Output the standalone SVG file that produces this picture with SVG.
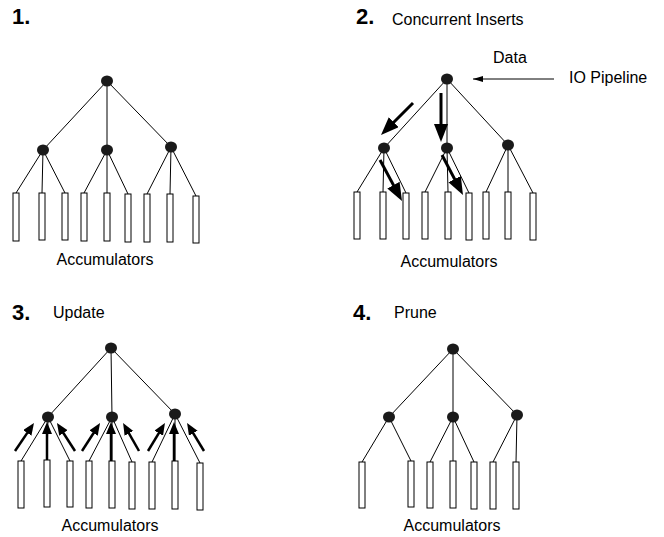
<svg xmlns="http://www.w3.org/2000/svg" width="664" height="537" viewBox="0 0 664 537">
<style>
.bg{fill:#fff}
.n{fill:#1a1a1a}
.acc{fill:#fff;stroke:#000;stroke-width:1}
.e{stroke:#000;stroke-width:1;fill:none}
.big{stroke:#000;stroke-width:3;fill:none;marker-end:url(#hb)}
.up{stroke:#000;stroke-width:2.5;fill:none;marker-end:url(#hs)}
.io{stroke:#000;stroke-width:1;fill:none;marker-end:url(#ht)}
.t{font-family:"Liberation Sans",Arial,sans-serif;font-size:16px;fill:#000}
.num{font-family:"Liberation Sans",Arial,sans-serif;font-size:22px;font-weight:bold;fill:#000}
</style>
<defs>
<marker id="hb" markerUnits="userSpaceOnUse" markerWidth="19" markerHeight="15" refX="6" refY="7" orient="auto"><path d="M0,0 L18,7 L0,14 z" fill="#000"/></marker>
<marker id="hs" markerUnits="userSpaceOnUse" markerWidth="13" markerHeight="11" refX="4" refY="5" orient="auto"><path d="M0,0 L12,5 L0,10 z" fill="#000"/></marker>
<marker id="ht" markerUnits="userSpaceOnUse" markerWidth="11" markerHeight="7" refX="10" refY="3" orient="auto"><path d="M0,0 L10,3 L0,6 z" fill="#000"/></marker>
</defs>
<rect class="bg" x="0" y="0" width="664" height="537"/>

<g id="connectors">
<!-- panel 1 -->
<path class="e" d="M107,81 L43,150 M107,81 L107,150 M107,81 L171,147"/>
<path class="e" d="M43,150 L16,193 M43,150 L42,193 M43,150 L65,193 M107,150 L84,193 M107,150 L107,193 M107,150 L128,194 M171,147 L147,194 M171,147 L170,194 M171,147 L196,196"/>
<!-- panel 2 -->
<path class="e" d="M447,79 L384,148 M447,79 L447,148 M447,79 L508,145"/>
<path class="e" d="M384,148 L357,192 M384,148 L383,192 M384,148 L406,193 M447,148 L425,192 M447,148 L448,192 M447,148 L469,193 M508,145 L486,192 M508,145 L508,192 M508,145 L533,193"/>
<line class="io" x1="554" y1="79" x2="473" y2="79"/>
<line class="big" x1="413" y1="103" x2="389.5" y2="126.5"/>
<line class="big" x1="441" y1="93" x2="441" y2="130"/>
<line class="big" x1="380" y1="160" x2="396.3" y2="190.4"/>
<line class="big" x1="442" y1="155" x2="457.4" y2="184.4"/>
<!-- panel 3 -->
<path class="e" d="M111,348 L48,417 M111,348 L112,417 M111,348 L175,414"/>
<path class="e" d="M48,417 L21,461 M48,417 L47,460 M48,417 L70,461 M112,417 L89,461 M112,417 L112,461 M112,417 L132,462 M175,414 L152,462 M175,414 L175,461 M175,414 L200,463"/>
<line class="up" x1="15" y1="451" x2="29.5" y2="429.6"/>
<line class="up" x1="47" y1="462" x2="47" y2="430"/>
<line class="up" x1="75" y1="451" x2="61.3" y2="429.7"/>
<line class="up" x1="82" y1="451" x2="95.7" y2="429.7"/>
<line class="up" x1="111" y1="462" x2="111" y2="430"/>
<line class="up" x1="139" y1="451" x2="127" y2="429.9"/>
<line class="up" x1="148" y1="451" x2="160.8" y2="429.8"/>
<line class="up" x1="174" y1="462" x2="174" y2="430"/>
<line class="up" x1="204" y1="451" x2="191.2" y2="429.8"/>
<!-- panel 4 -->
<path class="e" d="M453,349 L389,417 M453,349 L453,417 M453,349 L517,415"/>
<path class="e" d="M389,417 L362,462 M389,417 L411,461 M453,417 L430,462 M453,417 L453,461 M453,417 L474,462 M517,415 L493,462 M517,415 L516,462"/>
</g>

<g id="labels">
<text class="num" x="12" y="24">1.</text>
<text class="num" x="356" y="24">2.</text>
<text class="t" x="392" y="25">Concurrent Inserts</text>
<text class="t" x="493" y="63">Data</text>
<text class="t" x="569" y="83">IO Pipeline</text>
<text class="num" x="12" y="320">3.</text>
<text class="t" x="53" y="318">Update</text>
<text class="num" x="353" y="320">4.</text>
<text class="t" x="394" y="318">Prune</text>
<text class="t" x="105" y="265" text-anchor="middle">Accumulators</text>
<text class="t" x="449" y="267" text-anchor="middle">Accumulators</text>
<text class="t" x="110" y="531" text-anchor="middle">Accumulators</text>
<text class="t" x="452" y="531" text-anchor="middle">Accumulators</text>
</g>

<g id="p1-root"><ellipse class="n" cx="107" cy="81" rx="6" ry="5.5"/></g>
<g id="p1-mid1"><ellipse class="n" cx="43" cy="150" rx="6" ry="5.5"/></g>
<g id="p1-mid2"><ellipse class="n" cx="107" cy="150" rx="6" ry="5.5"/></g>
<g id="p1-mid3"><ellipse class="n" cx="171" cy="147" rx="6" ry="5.5"/></g>
<g id="p1-accumulators">
<rect class="acc" x="13" y="193" width="6" height="48"/>
<rect class="acc" x="39" y="193" width="6" height="47"/>
<rect class="acc" x="62" y="193" width="6" height="47"/>
<rect class="acc" x="81" y="193" width="6" height="48"/>
<rect class="acc" x="104" y="193" width="6" height="48"/>
<rect class="acc" x="125" y="194" width="6" height="48"/>
<rect class="acc" x="144" y="194" width="6" height="48"/>
<rect class="acc" x="167" y="194" width="6" height="48"/>
<rect class="acc" x="193" y="196" width="6" height="47"/>
</g>

<g id="p2-root"><ellipse class="n" cx="447" cy="79" rx="6" ry="5.5"/></g>
<g id="p2-mid1"><ellipse class="n" cx="384" cy="148" rx="6" ry="5.5"/></g>
<g id="p2-mid2"><ellipse class="n" cx="447" cy="148" rx="6" ry="5.5"/></g>
<g id="p2-mid3"><ellipse class="n" cx="508" cy="145" rx="6" ry="5.5"/></g>
<g id="p2-accumulators">
<rect class="acc" x="354" y="192" width="6" height="47"/>
<rect class="acc" x="380" y="192" width="6" height="47"/>
<rect class="acc" x="403" y="193" width="6" height="46"/>
<rect class="acc" x="422" y="192" width="6" height="47"/>
<rect class="acc" x="445" y="192" width="6" height="47"/>
<rect class="acc" x="466" y="193" width="6" height="47"/>
<rect class="acc" x="483" y="192" width="6" height="47"/>
<rect class="acc" x="505" y="192" width="6" height="47"/>
<rect class="acc" x="530" y="193" width="6" height="47"/>
</g>

<g id="p3-root"><ellipse class="n" cx="111" cy="348" rx="6" ry="5.5"/></g>
<g id="p3-mid1"><ellipse class="n" cx="48" cy="417" rx="6" ry="5.5"/></g>
<g id="p3-mid2"><ellipse class="n" cx="112" cy="417" rx="6" ry="5.5"/></g>
<g id="p3-mid3"><ellipse class="n" cx="175" cy="414" rx="6" ry="5.5"/></g>
<g id="p3-accumulators">
<rect class="acc" x="18" y="461" width="6" height="47"/>
<rect class="acc" x="44" y="460" width="6" height="47"/>
<rect class="acc" x="67" y="461" width="6" height="46"/>
<rect class="acc" x="86" y="461" width="6" height="47"/>
<rect class="acc" x="109" y="461" width="6" height="47"/>
<rect class="acc" x="129" y="462" width="6" height="47"/>
<rect class="acc" x="149" y="462" width="6" height="47"/>
<rect class="acc" x="172" y="461" width="6" height="48"/>
<rect class="acc" x="197" y="463" width="6" height="47"/>
</g>

<g id="p4-root"><ellipse class="n" cx="453" cy="349" rx="6" ry="5.5"/></g>
<g id="p4-mid1"><ellipse class="n" cx="389" cy="417" rx="6" ry="5.5"/></g>
<g id="p4-mid2"><ellipse class="n" cx="453" cy="417" rx="6" ry="5.5"/></g>
<g id="p4-mid3"><ellipse class="n" cx="517" cy="415" rx="6" ry="5.5"/></g>
<g id="p4-accumulators">
<rect class="acc" x="359" y="462" width="6" height="46"/>
<rect class="acc" x="408" y="461" width="6" height="46"/>
<rect class="acc" x="427" y="462" width="6" height="46"/>
<rect class="acc" x="450" y="461" width="6" height="47"/>
<rect class="acc" x="471" y="462" width="6" height="47"/>
<rect class="acc" x="490" y="462" width="6" height="47"/>
<rect class="acc" x="513" y="462" width="6" height="47"/>
</g>
</svg>
